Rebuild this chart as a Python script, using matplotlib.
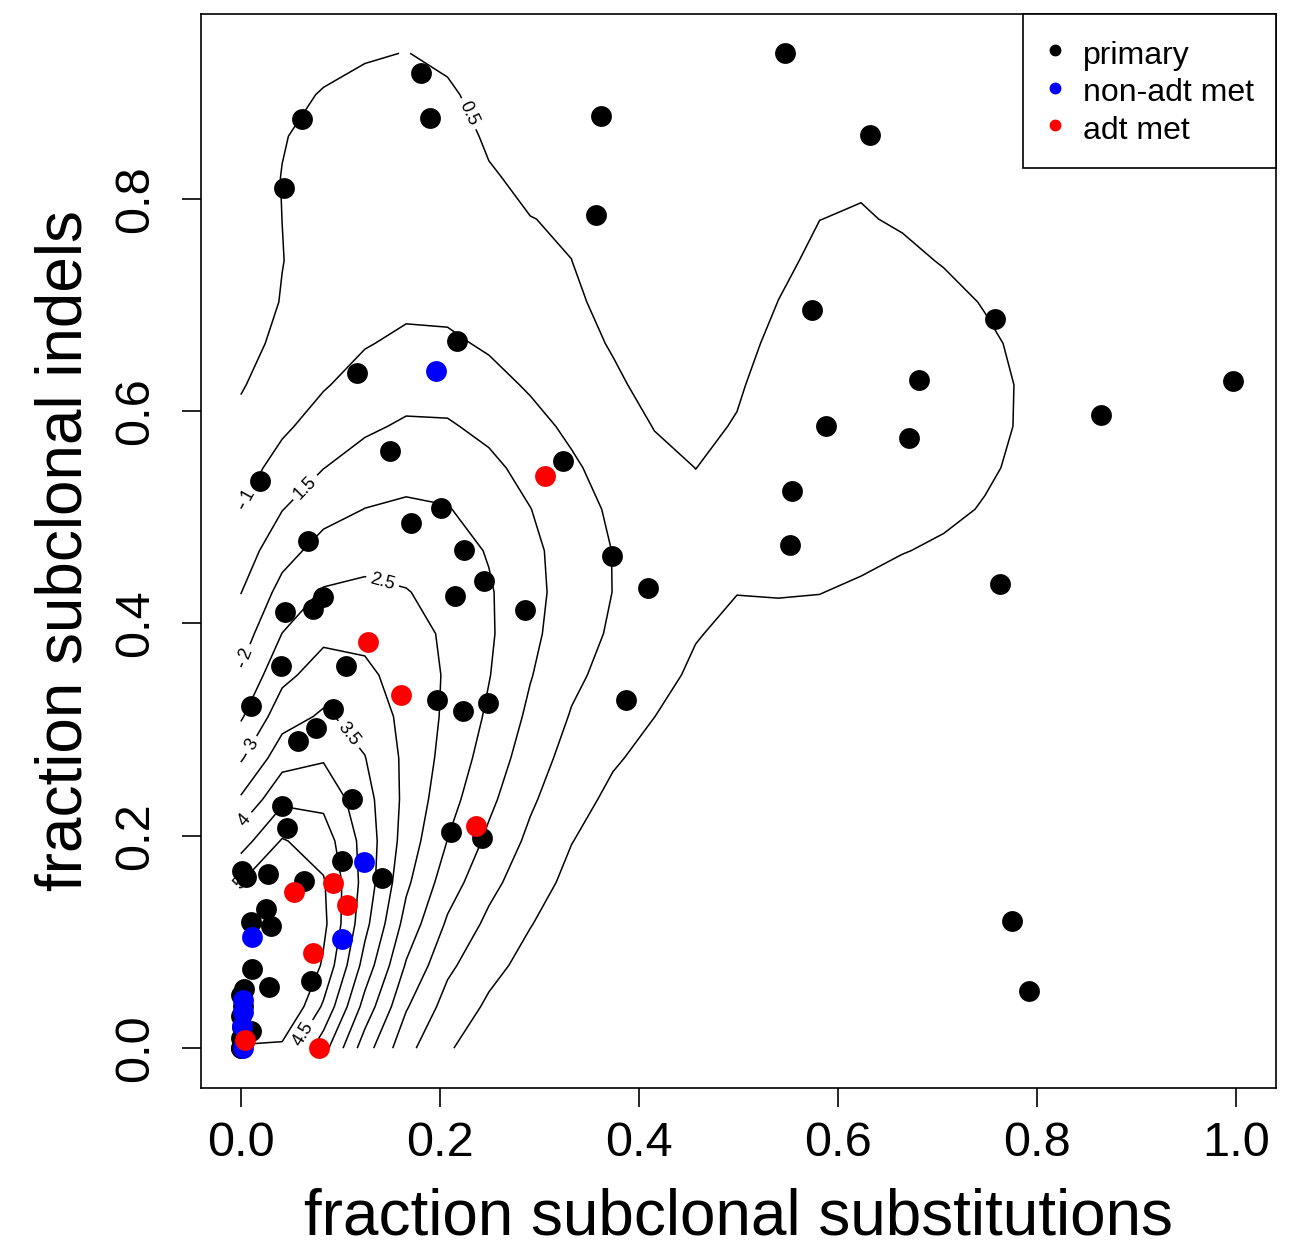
import numpy as np
import matplotlib
matplotlib.use("Agg")
import matplotlib.pyplot as plt
from matplotlib.lines import Line2D

plt.rcParams['font.family'] = ['Liberation Sans', 'DejaVu Sans']

# fraction subclonal substitutions / indels per sample
# (the last few primary samples sit at the origin, hidden under the coloured dots)
primary_x = [0.547, 0.181, 0.190, 0.061, 0.362, 0.632, 0.043, 0.357, 0.574, 0.758,
             0.217, 0.117, 0.681, 0.997, 0.864, 0.588, 0.671, 0.324, 0.150, 0.019,
             0.554, 0.201, 0.171, 0.552, 0.068, 0.224, 0.373, 0.409, 0.763, 0.244,
             0.215, 0.286, 0.083, 0.073, 0.044, 0.040, 0.106, 0.387, 0.197, 0.223,
             0.248, 0.010, 0.093, 0.076, 0.057, 0.112, 0.041, 0.046, 0.211, 0.242,
             0.102, 0.001, 0.005, 0.027, 0.064, 0.142, 0.025, 0.010, 0.030, 0.011,
             0.028, 0.071, 0.003, 0.010, 0.775, 0.792,
             0.000, 0.000, 0.000, 0.001, 0.000, 0.002, 0.000, 0.001]
primary_y = [0.937, 0.918, 0.876, 0.875, 0.878, 0.860, 0.810, 0.785, 0.695, 0.687,
             0.666, 0.636, 0.629, 0.628, 0.596, 0.586, 0.575, 0.553, 0.562, 0.534,
             0.525, 0.509, 0.495, 0.474, 0.478, 0.469, 0.464, 0.433, 0.437, 0.440,
             0.426, 0.413, 0.425, 0.414, 0.411, 0.360, 0.360, 0.328, 0.328, 0.318,
             0.325, 0.322, 0.319, 0.302, 0.289, 0.235, 0.228, 0.207, 0.204, 0.198,
             0.176, 0.167, 0.161, 0.164, 0.157, 0.160, 0.131, 0.119, 0.115, 0.075,
             0.058, 0.063, 0.056, 0.016, 0.120, 0.054,
             0.000, 0.000, 0.010, 0.020, 0.030, 0.040, 0.050, 0.005]

nonadt_x = [0.196, 0.124, 0.011, 0.102, 0.002, 0.002, 0.001, 0.002]
nonadt_y = [0.638, 0.175, 0.105, 0.103, 0.045, 0.034, 0.021, 0.000]

adt_x = [0.306, 0.128, 0.161, 0.236, 0.093, 0.053, 0.107, 0.073, 0.004, 0.079]
adt_y = [0.539, 0.383, 0.333, 0.209, 0.156, 0.147, 0.135, 0.090, 0.008, 0.000]

contour_levels = [0.5, 1.0, 1.5, 2.0, 2.5, 3.0, 3.5, 4.0, 4.5, 5.0]
legend_labels = ["primary", "non-adt met", "adt met"]
colors = ["black", "blue", "red"]


# 2d kernel density like MASS::kde2d (normal reference bandwidth, 25x25 grid)
def bw_nrd(v):
    q1, q3 = np.percentile(v, [25, 75])
    h = (q3 - q1) / 1.34
    return 4 * 1.06 * min(np.std(v, ddof=1), h) * len(v) ** (-0.2)


def kde2d(x, y, n=25):
    x = np.asarray(x)
    y = np.asarray(y)
    hx = bw_nrd(x) / 4
    hy = bw_nrd(y) / 4
    gx = np.linspace(x.min(), x.max(), n)
    gy = np.linspace(y.min(), y.max(), n)
    ax_ = (gx[:, None] - x[None, :]) / hx
    ay_ = (gy[:, None] - y[None, :]) / hy
    dx = np.exp(-0.5 * ax_ ** 2) / np.sqrt(2 * np.pi)
    dy = np.exp(-0.5 * ay_ ** 2) / np.sqrt(2 * np.pi)
    z = dx @ dy.T / (len(x) * hx * hy)
    return gx, gy, z


all_x = primary_x + nonadt_x + adt_x
all_y = primary_y + nonadt_y + adt_y
gx, gy, z = kde2d(all_x, all_y)

fig = plt.figure(figsize=(12.9, 12.49), dpi=100)
ax = fig.add_axes([0.1558, 0.1289, 0.9891 - 0.1558, 0.9888 - 0.1289])

# one contour set per level so each label lands on its own line,
# roughly where R's contour() put them
label_spots = [(0.222, 0.877), (0.010, 0.520), (0.068, 0.525), (0.007, 0.371),
               (0.138, 0.424), (0.012, 0.285), (0.101, 0.290), (0.010, 0.210),
               (0.025, 0.035), (0.011, 0.105)]
for lvl, spot in zip(contour_levels, label_spots):
    if z.max() <= lvl:
        continue
    cs = ax.contour(gx, gy, z.T, levels=[lvl], colors="black", linewidths=1.1)
    try:
        ax.clabel(cs, inline=True, fontsize=13, fmt=lambda v: f"{v:g}",
                  inline_spacing=6, manual=[spot])
    except Exception:
        ax.clabel(cs, inline=True, fontsize=13, fmt=lambda v: f"{v:g}",
                  inline_spacing=6)

ax.scatter(primary_x, primary_y, s=225, color="black", zorder=3, linewidths=0)
ax.scatter(nonadt_x, nonadt_y, s=225, color="blue", zorder=3, linewidths=0)
ax.scatter(adt_x, adt_y, s=225, color="red", zorder=3, linewidths=0)

ax.set_xlim(-0.04, 1.04)
ax.set_ylim(-0.0375, 0.974)
ax.set_xticks([0.0, 0.2, 0.4, 0.6, 0.8, 1.0])
ax.set_yticks([0.0, 0.2, 0.4, 0.6, 0.8])
ax.set_xticklabels(["0.0", "0.2", "0.4", "0.6", "0.8", "1.0"])
ax.set_yticklabels(["0.0", "0.2", "0.4", "0.6", "0.8"], rotation=90, va="center")
ax.tick_params(axis="both", direction="out", length=13.5, width=1.2, labelsize=35)
ax.tick_params(axis="x", pad=10)
ax.tick_params(axis="y", pad=17)
for sp in ax.spines.values():
    sp.set_linewidth(1.2)

ax.set_xlabel("fraction subclonal substitutions", fontsize=46, labelpad=16)
ax.set_ylabel("fraction subclonal indels", fontsize=46, labelpad=14)

handles = [Line2D([], [], marker="o", linestyle="none", color=c, markersize=7.5)
           for c in colors]
leg = ax.legend(handles, legend_labels, loc="upper right", fontsize=23,
                frameon=True, fancybox=False, edgecolor="black", framealpha=1,
                borderaxespad=0, borderpad=0.7, handlelength=0.6, handleheight=1.2,
                handletextpad=0.55, labelspacing=0.11)
leg.get_frame().set_linewidth(1.2)

fig.savefig("out.png", dpi=100)
